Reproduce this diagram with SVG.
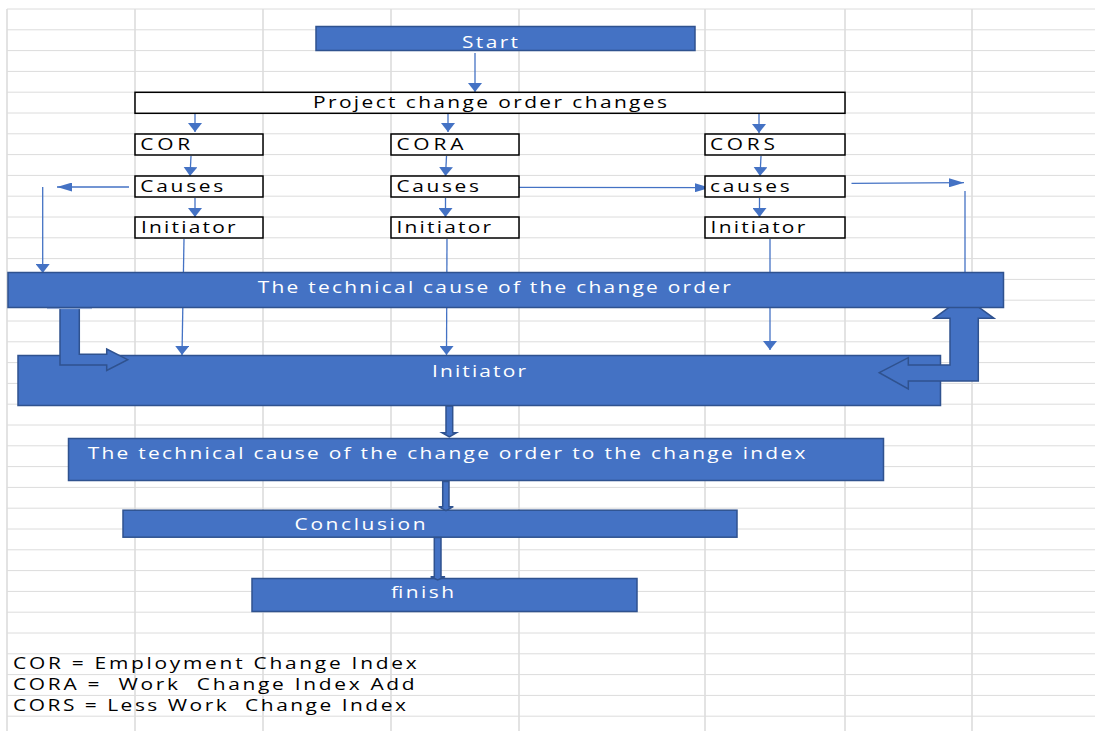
<svg xmlns="http://www.w3.org/2000/svg" width="1095" height="731" viewBox="0 0 1095 731">
<style>
.grid{stroke:#dcdcdc;stroke-width:1;fill:none}
.gridv{stroke:#dcdcdc;stroke-width:1.6;fill:none}
.wbox{fill:#ffffff;stroke:#000000;stroke-width:1.5}
.bbox{fill:#4472C4;stroke:#2F528F;stroke-width:1.5}
.blk{fill:#4472C4;stroke:#2F528F;stroke-width:1.5}
.con{stroke:#4472C4;stroke-width:1.3;fill:none}
.t{font-family:"Open Sans","Liberation Sans",sans-serif;font-size:15.5px;white-space:pre}
.tw{fill:#ffffff}
.tb{fill:#000000}
</style>
<defs>
<marker id="vhead" markerUnits="userSpaceOnUse" viewBox="0 0 9 14" markerWidth="9" markerHeight="14" refX="9" refY="7" orient="auto">
<path d="M0,0 L9,7 L0,14 z" fill="#4472C4"/>
</marker>
<marker id="hhead" markerUnits="userSpaceOnUse" viewBox="0 0 15 9" markerWidth="15" markerHeight="9" refX="15" refY="4.5" orient="auto">
<path d="M0,0 L15,4.5 L0,9 z" fill="#4472C4"/>
</marker>
</defs>
<rect x="0" y="0" width="1095" height="731" fill="#ffffff"/>
<g id="grid">
<path class="grid" d="M7 9H1095M7 29.8H1095M7 50.6H1095M7 71.4H1095M7 92.2H1095M7 113H1095M7 133.8H1095M7 154.6H1095M7 175.4H1095M7 196.2H1095M7 217H1095M7 237.8H1095M7 258.6H1095M7 279.4H1095M7 300.2H1095M7 321H1095M7 341.8H1095M7 362.6H1095M7 383.4H1095M7 404.2H1095M7 425H1095M7 445.8H1095M7 466.6H1095M7 487.4H1095M7 508.2H1095M7 529H1095M7 549.8H1095M7 570.6H1095M7 591.4H1095M7 612.2H1095M7 633H1095M7 653.8H1095M7 674.6H1095M7 695.4H1095M7 716.2H1095"/>
<path class="gridv" d="M7 9V731M135 9V731M263 9V731M391 9V731M519 9V731M705 9V731M845 9V731M972 9V731"/>
</g>
<g id="connectors">
<line class="con" x1="475" y1="53" x2="475" y2="92" marker-end="url(#vhead)"/>
<line class="con" x1="195" y1="114" x2="195" y2="132" marker-end="url(#vhead)"/>
<line class="con" x1="448" y1="114" x2="448" y2="132" marker-end="url(#vhead)"/>
<line class="con" x1="759" y1="114" x2="759" y2="133" marker-end="url(#vhead)"/>
<line class="con" x1="191" y1="156" x2="190" y2="176" marker-end="url(#vhead)"/>
<line class="con" x1="446.5" y1="156" x2="445.5" y2="176" marker-end="url(#vhead)"/>
<line class="con" x1="761" y1="156" x2="760" y2="176" marker-end="url(#vhead)"/>
<line class="con" x1="195" y1="198" x2="195" y2="217" marker-end="url(#vhead)"/>
<line class="con" x1="445.5" y1="198" x2="445.5" y2="217" marker-end="url(#vhead)"/>
<line class="con" x1="759.5" y1="198" x2="759.5" y2="217" marker-end="url(#vhead)"/>
<line class="con" x1="129" y1="187" x2="57" y2="187" marker-end="url(#hhead)"/>
<line class="con" x1="42.7" y1="187" x2="42.7" y2="273" marker-end="url(#vhead)"/>
<line class="con" x1="519" y1="187.3" x2="710" y2="187.7" marker-end="url(#hhead)"/>
<line class="con" x1="851.5" y1="183.3" x2="964" y2="182.7" marker-end="url(#hhead)"/>
<line class="con" x1="965" y1="191" x2="965" y2="273"/>
<line class="con" x1="184" y1="239" x2="182" y2="355" marker-end="url(#vhead)"/>
<line class="con" x1="447" y1="239" x2="446.5" y2="355" marker-end="url(#vhead)"/>
<line class="con" x1="770" y1="239" x2="770" y2="350" marker-end="url(#vhead)"/>
</g>
<g id="node-start">
<rect class="bbox" x="316" y="26.5" width="379" height="24"/>
<text class="t tw" transform="translate(462 47.5) scale(1.35 1)" textLength="41.5">Start</text>
</g>
<g id="node-project">
<rect class="wbox" x="135" y="92.3" width="710" height="21"/>
<text class="t tb" transform="translate(313 108.3) scale(1.35 1)" textLength="262.2">Project change order changes</text>
</g>
<g id="node-cor">
<rect class="wbox" x="135" y="134" width="128" height="21"/>
<text class="t tb" transform="translate(140.3 150) scale(1.35 1)" textLength="37">COR</text>
</g>
<g id="node-cora">
<rect class="wbox" x="391" y="134" width="128" height="21"/>
<text class="t tb" transform="translate(396.4 150) scale(1.35 1)" textLength="49.6">CORA</text>
</g>
<g id="node-cors">
<rect class="wbox" x="705" y="134" width="140" height="21"/>
<text class="t tb" transform="translate(710 150) scale(1.35 1)" textLength="48.1">CORS</text>
</g>
<g id="node-cor-causes">
<rect class="wbox" x="135" y="176" width="128" height="21"/>
<text class="t tb" transform="translate(140.3 192.3) scale(1.35 1)" textLength="61.5">Causes</text>
</g>
<g id="node-cora-causes">
<rect class="wbox" x="391" y="176" width="128" height="21"/>
<text class="t tb" transform="translate(396.4 192.3) scale(1.35 1)" textLength="61.2">Causes</text>
</g>
<g id="node-cors-causes">
<rect class="wbox" x="705" y="176" width="140" height="21"/>
<text class="t tb" transform="translate(710 192.3) scale(1.35 1)" textLength="59">causes</text>
</g>
<g id="node-cor-initiator">
<rect class="wbox" x="135" y="217" width="128" height="21"/>
<text class="t tb" transform="translate(141 233.3) scale(1.35 1)" textLength="70.1">Initiator</text>
</g>
<g id="node-cora-initiator">
<rect class="wbox" x="391" y="217" width="128" height="21"/>
<text class="t tb" transform="translate(396.4 233.3) scale(1.35 1)" textLength="70.1">Initiator</text>
</g>
<g id="node-cors-initiator">
<rect class="wbox" x="705" y="217" width="140" height="21"/>
<text class="t tb" transform="translate(710.6 233.3) scale(1.35 1)" textLength="70.1">Initiator</text>
</g>
<g id="node-initiator">
<rect class="bbox" x="18" y="355.5" width="922.5" height="50"/>
<text class="t tw" transform="translate(432 376.7) scale(1.35 1)" textLength="69.6">Initiator</text>
</g>
<g id="block-arrows">
<polygon class="blk" points="60,300 60,365 106.7,365 106.7,370.5 127.7,359.7 106.7,349 106.7,354.3 79.3,354.3 79.3,300"/>
<line x1="47" y1="308.6" x2="92" y2="308.6" stroke="#a8bbe0" stroke-width="1"/>
<polygon class="blk" points="879.3,372.7 908.3,357.7 908.3,365 950,365 950,318.3 934,318.3 964,296.5 994,318.3 978.3,318.3 978.3,381 908.3,381 908.3,389"/>
</g>
<g id="node-technical">
<rect class="bbox" x="8" y="272.5" width="995.5" height="35"/>
<text class="t tw" transform="translate(257.8 293.3) scale(1.35 1)" textLength="350.4">The technical cause of the change order</text>
</g>
<g id="node-technical-index">
<rect class="bbox" x="68.5" y="438.5" width="815" height="42"/>
<text class="t tw" transform="translate(87.7 459.3) scale(1.35 1)" textLength="531.6">The technical cause of the change order to the change index</text>
</g>
<g id="node-conclusion">
<rect class="bbox" x="123" y="510.2" width="614" height="27"/>
<text class="t tw" transform="translate(294.6 530) scale(1.35 1)" textLength="97">Conclusion</text>
</g>
<g id="node-finish">
<rect class="bbox" x="252" y="578.5" width="385" height="33"/>
<text class="t tw" transform="translate(391 598.3) scale(1.35 1)" textLength="46.7">finish</text>
</g>
<g id="block-arrows-down">
<polygon class="blk" points="446,406 452.7,406 452.7,432.7 456.5,432.7 449.3,437 442,432.7 446,432.7"/>
<polygon class="blk" points="442.7,481.5 449,481.5 449,506.7 453.3,506.7 446,510.7 438.7,506.7 442.7,506.7"/>
<polygon class="blk" points="434.3,537.5 441,537.5 441,576.7 445,576.7 437.7,580 430.7,576.7 434.3,576.7"/>
</g>
<g id="legend">
<text class="t tb" transform="translate(13 669.3) scale(1.35 1)" textLength="299">COR = Employment Change Index</text>
<text class="t tb" transform="translate(13 690.3) scale(1.35 1)" textLength="297.5">CORA =  Work  Change Index Add</text>
<text class="t tb" transform="translate(13 711) scale(1.35 1)" textLength="291">CORS = Less Work  Change Index</text>
</g>
</svg>
